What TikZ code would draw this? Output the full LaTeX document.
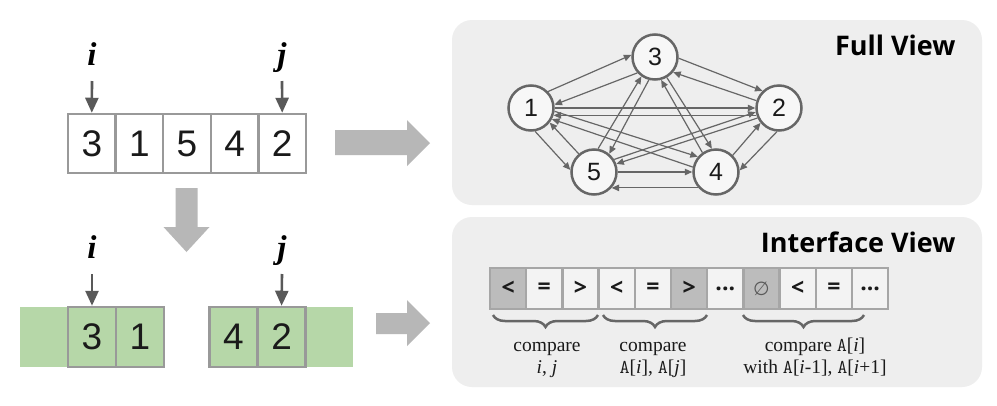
\documentclass[tikz,border=0pt]{standalone}
\usepackage{fontspec}
\setmainfont{Liberation Serif}
\newfontfamily\digitfont{Liberation Sans}
\newfontfamily\titlefont{Open Sans}
\newfontfamily\symfont{DejaVu Sans}
\usetikzlibrary{arrows.meta,decorations.pathreplacing,calc}
\definecolor{panelbg}{HTML}{EEEEEE}
\definecolor{bigarr}{HTML}{B7B7B7}
\definecolor{cellborder}{HTML}{999999}
\definecolor{ptrcol}{HTML}{595959}
\definecolor{greenfill}{HTML}{B6D7A8}
\definecolor{nodeline}{HTML}{666666}
\definecolor{nodefill}{HTML}{F7F7F7}
\definecolor{icellborder}{HTML}{A6A6A6}
\definecolor{ilight}{HTML}{F3F3F3}
\definecolor{idark}{HTML}{BCBCBC}
\definecolor{txt}{HTML}{1A1A1A}
\tikzset{
  arrcell/.style={draw=cellborder, line width=2.5pt, fill=white, minimum width=47.6pt, minimum height=59pt, inner sep=0pt, font=\digitfont\fontsize{37}{40}\selectfont, text=txt},
  greencell/.style={arrcell, fill=greenfill, minimum width=48pt, minimum height=60pt},
  ptr/.style={draw=ptrcol, line width=2.6pt, -{Triangle[length=15pt,width=13pt]}},
  idx/.style={anchor=base, font=\rmfamily\fontsize{33}{35}\selectfont\bfseries\itshape, text=black},
  bigarrow/.style={fill=bigarr},
  panel/.style={fill=panelbg, rounded corners=20pt},
  gnode/.style={circle, draw=nodeline, line width=2.5pt, fill=nodefill, minimum size=45pt, inner sep=0pt, font=\digitfont\fontsize{25}{27}\selectfont, text=txt},
  edge/.style={draw=nodeline, line width=1.2pt, -{Triangle[length=7.5pt,width=6.5pt]}},
  icell/.style={draw=icellborder, line width=2.5pt, fill=ilight, minimum width=36.2pt, minimum height=41pt, inner sep=0pt, font=\titlefont\bfseries\fontsize{23}{25}\selectfont, text=txt},
  idcell/.style={icell, fill=idark},
  title/.style={anchor=base east, font=\titlefont\bfseries\fontsize{27}{29}\selectfont, text=black},
  brc/.style={draw=nodeline, line width=2.5pt, decorate, decoration={brace, mirror, amplitude=12pt}},
  lbl/.style={anchor=base, font=\rmfamily\fontsize{19.5}{21}\selectfont, text=txt}
}
\begin{document}
\begin{tikzpicture}[x=1pt,y=-1pt]
\useasboundingbox[fill=white] (0,0) rectangle (997,405);

% ---------- left: top array ----------
\node[arrcell] (a1) at (91.8,143.5) {3};
\node[arrcell] (a2) at (139.4,143.5) {1};
\node[arrcell] (a3) at (187.0,143.5) {5};
\node[arrcell] (a4) at (234.6,143.5) {4};
\node[arrcell] (a5) at (282.2,143.5) {2};
\node[idx] (ti) at (92,65) {i};
\node[idx] (tj) at (282,65) {j};
\coordinate (tpi) at (92,81);
\coordinate (tpj) at (282,81);
\draw[ptr] (tpi) -- (a1.north);
\draw[ptr] (tpj) -- (a5.north);

% big arrows
\fill[bigarrow] (335,130) -- (407,130) -- (407,120) -- (430,143) -- (407,166) -- (407,155) -- (335,155) -- cycle;
\fill[bigarrow] (175.5,188) -- (197.5,188) -- (197.5,227) -- (209.5,227) -- (186.5,252) -- (163.5,227) -- (175.5,227) -- cycle;
\fill[bigarrow] (376,313) -- (407,313) -- (407,300) -- (430,323) -- (407,346) -- (407,334) -- (376,334) -- cycle;

% ---------- left: bottom array ----------
\fill[greenfill] (20,307) rectangle (164,366.5);
\fill[greenfill] (209,307) rectangle (353,366.5);
\node[greencell] (b1) at (92,337) {3};
\node[greencell] (b2) at (140,337) {1};
\node[greencell] (b3) at (233.3,337) {4};
\node[greencell] (b4) at (281.6,337) {2};
\node[idx] (bi) at (92,258) {i};
\node[idx] (bj) at (282,258) {j};
\coordinate (bpi) at (92,274);
\coordinate (bpj) at (282,274);
\draw[ptr] (bpi) -- (b1.north);
\draw[ptr] (bpj) -- (b4.north);

% ---------- right: panels ----------
\fill[panel] (452,20) rectangle (982,205);
\fill[panel] (452,217) rectangle (982,387);
\node[title] (tfull) at (959,55) {Full View};
\node[title] (tint) at (959,252) {Interface View};

% ---------- full view graph ----------
\node[gnode] (n1) at (531,108) {1};
\node[gnode] (n2) at (779,108) {2};
\node[gnode] (n3) at (655,57) {3};
\node[gnode] (n4) at (716,172) {4};
\node[gnode] (n5) at (594,172) {5};

\draw[edge] (n1.44) -- (n3.175);
\draw[edge] (n3.222) -- (n1.8);
\draw[edge] (n3.-3) -- (n2.134);
\draw[edge] (n2.162) -- (n3.-40);
\draw[edge] (n1.0) -- (n2.180);
\draw[edge] (n2.198) -- (n1.-18);
\draw[edge] (n5.0) -- (n4.180);
\draw[edge] (n4.222) -- (n5.-42);
\draw[edge] (n1.-80) -- (n5.175);
\draw[edge] (n5.130) -- (n1.-38);
\draw[edge] (n4.45) -- (n2.219);
\draw[edge] (n2.-95) -- (n4.4);
\draw[edge] (n1.-8) -- (n4.140);
\draw[edge] (n4.168) -- (n1.-28);
\draw[edge] (n3.255) -- (n5.50);
\draw[edge] (n5.80) -- (n3.235);
\draw[edge] (n3.300) -- (n4.100);
\draw[edge] (n4.125) -- (n3.285);
\draw[edge] (n2.205) -- (n5.20);
\draw[edge] (n5.32) -- (n2.190);

% ---------- interface view ----------
\node[idcell] (c1) at (508.1,288.5) {<};
\node[icell]  (c2) at (544.3,288.5) {=};
\node[icell]  (c3) at (580.5,288.5) {>};
\node[icell]  (c4) at (616.7,288.5) {<};
\node[icell]  (c5) at (652.9,288.5) {=};
\node[idcell] (c6) at (689.1,288.5) {>};
\node[icell]  (c7) at (725.3,288.5) {...};
\node[idcell] (c8) at (761.5,288.5) {\symfont\mdseries\fontsize{19}{21}\selectfont\color{ptrcol}∅};
\node[icell]  (c9) at (797.7,288.5) {<};
\node[icell]  (c10) at (833.9,288.5) {=};
\node[icell]  (c11) at (870.1,288.5) {...};

\draw[brc] (493,315) -- (598,315);
\draw[brc] (603,315) -- (707,315);
\draw[brc] (743,315) -- (864,315);

\node[lbl] (l1a) at (547,351) {compare};
\node[lbl] (l1b) at (547,373) {\textit{i}, \textit{j}};
\node[lbl] (l2a) at (653,351) {compare};
\node[lbl] (l2b) at (653,373) {\texttt{A}[\textit{i}], \texttt{A}[\textit{j}]};
\node[lbl] (l3a) at (815,351) {compare \texttt{A}[\textit{i}]};
\node[lbl] (l3b) at (815,373) {with \texttt{A}[\textit{i}-1], \texttt{A}[\textit{i}+1]};
\end{tikzpicture}
\end{document}
